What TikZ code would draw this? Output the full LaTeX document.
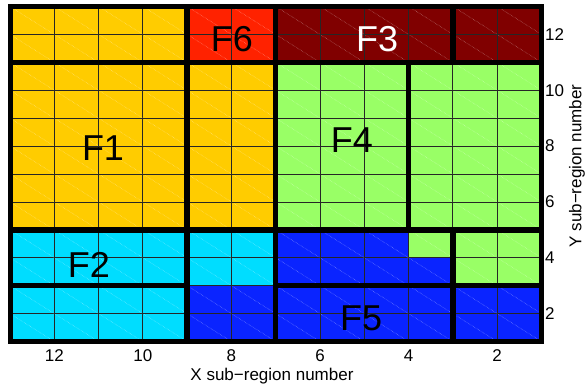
\documentclass[tikz,border=0pt]{standalone}
\usepackage{fontspec}
\setmainfont{Liberation Sans}
\usetikzlibrary{positioning}

\definecolor{subyellow}{HTML}{FFCC00}
\definecolor{subred}{HTML}{FF2200}
\definecolor{subdark}{HTML}{800000}
\definecolor{subgreen}{HTML}{99FF66}
\definecolor{subcyan}{HTML}{00DDFF}
\definecolor{subblue}{HTML}{0A24FF}

\begin{document}
\begin{tikzpicture}[x=-44.29pt,y=27.92pt,
  cell/.style={fill=#1,draw=black!85,line width=0.8pt},
  hatch/.style={draw=white,opacity=0.45,line width=0.5pt,densely dotted},
  sepline/.style={line width=5.5pt},
  frame/.style={draw,line width=5pt},
  flab/.style={font=\fontsize{36}{36}\selectfont,inner sep=0pt},
  ticklab/.style={font=\fontsize{17}{17}\selectfont,inner sep=0pt},
  axlab/.style={font=\fontsize{17}{17}\selectfont,inner sep=0pt},
]
\useasboundingbox (13.226,-0.628) rectangle (-0.0505,13.233);

% Sub-region cells, block by block
\foreach \xa/\xb/\ya/\yb/\col in {
    9/13/11/13/subyellow, 7/9/11/13/subred, 1/7/11/13/subdark,
    7/13/5/11/subyellow, 1/7/5/11/subgreen,
    7/13/3/5/subcyan, 4/7/3/5/subblue, 3/4/4/5/subgreen, 3/4/3/4/subblue, 1/3/3/5/subgreen,
    9/13/1/3/subcyan, 1/9/1/3/subblue}{
  \pgfmathtruncatemacro{\xe}{\xb-1}
  \pgfmathtruncatemacro{\ye}{\yb-1}
  \foreach \x in {\xa,...,\xe}
    \foreach \y in {\ya,...,\ye}{
      \draw[cell=\col] (\x,\y) rectangle ++(1,1);
      \draw[hatch] (\x+1,\y+1) -- (\x,\y);
    }
}

% Thick separators between blocks
\draw[sepline] (13,11) -- (1,11);
\draw[sepline] (13,5) -- (1,5);
\draw[sepline] (13,3) -- (9,3);
\draw[sepline] (7,3) -- (1,3);
\draw[sepline] (9,13) -- (9,1);
\draw[sepline] (7,13) -- (7,1);
\draw[sepline] (4,11) -- (4,5);
\draw[sepline] (3,13) -- (3,11);
\draw[sepline] (3,5) -- (3,1);

% Frame
\draw[frame] (13,1) rectangle (1,13);

% Region labels
\node[flab] (f1) at (10.90,7.93) {F1};
\node[flab] (f2) at (11.22,3.74) {F2};
\node[flab,text=white] (f3) at (4.71,11.84) {F3};
\node[flab] (f4) at (5.28,8.22) {F4};
\node[flab] (f5) at (5.07,1.84) {F5};
\node[flab] (f6) at (7.99,11.84) {F6};

% Axes
\foreach \t in {12,10,...,2}{
  \node[ticklab] (xt\t) at (\t,0.48) {\t};
  \node[ticklab,anchor=west] (yt\t) at (0.92,\t) {\t};
}
\node[axlab] (xlab) at (7.085,-0.25) {X sub−region number};
\node[axlab,rotate=90] (ylab) at (0.2,7.29) {Y sub−region number};
\end{tikzpicture}
\end{document}
